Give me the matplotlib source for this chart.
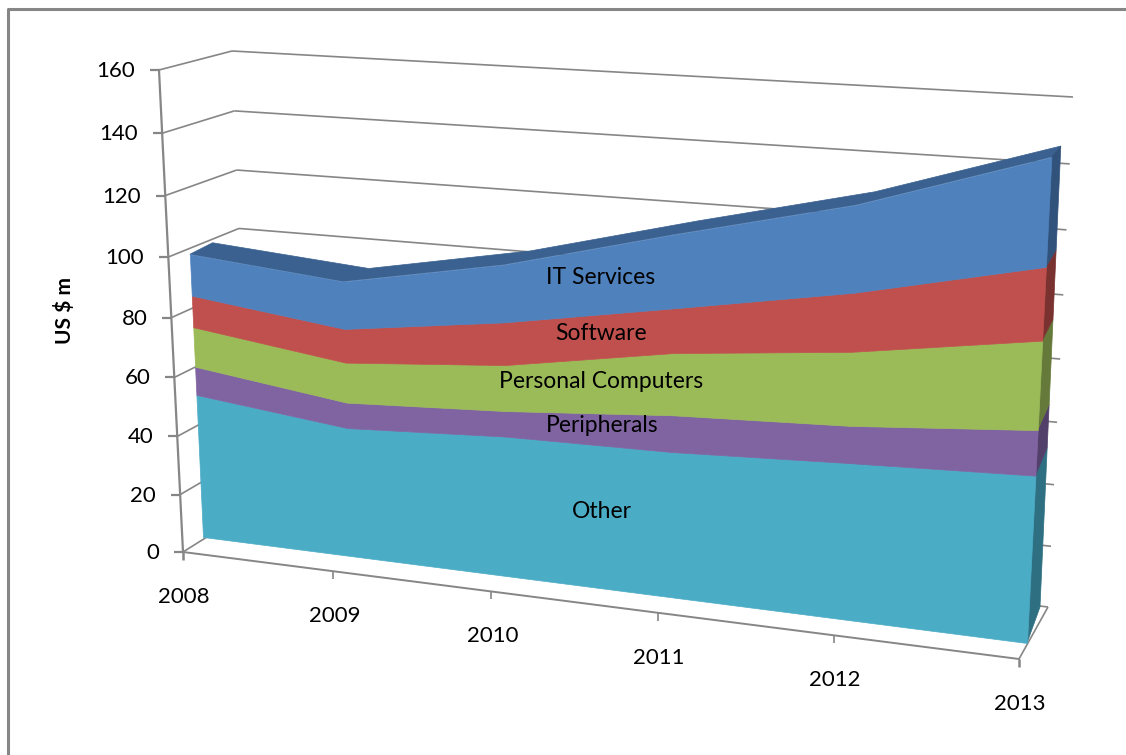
import numpy as np
import matplotlib
matplotlib.use('Agg')
import matplotlib.pyplot as plt
from matplotlib.transforms import Transform

plt.rcParams['font.family'] = ['Lato', 'DejaVu Sans']

years = ['2008', '2009', '2010', '2011', '2012', '2013']
series_names = ['Other', 'Peripherals', 'Personal Computers', 'Software', 'IT Services']
other = [49.9, 44.0, 46.8, 47.5, 49.9, 52.0]
peripherals = [9.7, 8.6, 8.4, 11.8, 11.6, 13.8]
personal_computers = [13.5, 13.4, 15.0, 19.7, 22.8, 26.7]
software = [10.7, 11.2, 13.8, 14.0, 17.9, 21.6]
it_services = [13.9, 15.6, 18.4, 22.8, 26.2, 31.5]
y_ticks = [0, 20, 40, 60, 80, 100, 120, 140, 160]

face_colors = ['#4BACC6', '#8064A2', '#9BBB59', '#C0504D', '#4F81BD']
side_colors = ['#2F6F82', '#523F6A', '#657A3A', '#7A3230', '#31527A']
top_color = '#3A6190'
grid_color = '#868686'


class Homography(Transform):
    """perspective map from (year index, value) to picture pixels"""
    input_dims = 2
    output_dims = 2

    def __init__(self, corners):
        super().__init__()
        src = [(0, 0), (5, 0), (0, 160), (5, 160)]
        A, b = [], []
        for (u, v), (x, y) in zip(src, corners):
            A.append([u, v, 1, 0, 0, 0, -u * x, -v * x])
            A.append([0, 0, 0, u, v, 1, -u * y, -v * y])
            b += [x, y]
        self.H = np.append(np.linalg.solve(np.array(A, float), np.array(b, float)), 1).reshape(3, 3)

    def transform_non_affine(self, values):
        pts = np.column_stack((values, np.ones(len(values))))
        out = pts @ self.H.T
        return out[:, :2] / out[:, 2:]


fig = plt.figure(figsize=(11.26, 7.55), dpi=100)
ax = fig.add_axes([0, 0, 1, 1])
ax.set_xlim(0, 1126)
ax.set_ylim(755, 0)
ax.axis('off')
ax.set_autoscale_on(False)

# corners in order (2008,0) (2013,0) (2008,160) (2013,160)
axis_plane = Homography([(183, 552), (1019, 659), (159, 70), (1046, 112)])
wall_plane = Homography([(250, 510), (1048, 607), (232, 51), (1073, 97)])
front_face = Homography([(203, 537), (1027, 643), (181, 64), (1054, 106)])
back_face = Homography([(224, 522), (1040, 607), (205, 56), (1063, 98)])


def line_between(a, b, **kw):
    ax.plot([a[0], b[0]], [a[1], b[1]], color=grid_color, solid_capstyle='butt', **kw)


# frame, only top and left
ax.plot([7.5, 7.5, 1126], [755, 8.5, 8.5], color=grid_color, lw=2.2)

# walls and floor
for v in y_ticks:
    pf = axis_plane.transform(np.array([[0, v]]))[0]
    pb = wall_plane.transform(np.array([[0, v]]))[0]
    pr = wall_plane.transform(np.array([[5, v]]))[0]
    line_between(pf, pb, lw=1.2)
    line_between(pb, pr, lw=1.2)
    line_between(pf, pf - [9, 0], lw=1.6)
    ax.text(pf[0] - 24, pf[1] + 1, str(v), ha='right', va='center', fontsize=16, color='black')

t_all = np.arange(len(years))
ax.plot([0, 0], [0, 160], color=grid_color, lw=1.6, transform=axis_plane + ax.transData)
ax.plot([0, 5], [0, 0], color=grid_color, lw=1.4, transform=axis_plane + ax.transData)
line_between(axis_plane.transform(np.array([[5, 0]]))[0], wall_plane.transform(np.array([[5, 0]]))[0], lw=1.2)
for t, label in zip(t_all, years):
    p = axis_plane.transform(np.array([[t, 0]]))[0]
    line_between(p, p + [0, 8], lw=1.2 if 0 < t < 5 else 1.8)
    ax.text(p[0] + 1, p[1] + 45, label, ha='center', va='center', fontsize=16, color='black')

# stacked area, depth faces first
layers = np.array([other, peripherals, personal_computers, software, it_services])
tops = np.cumsum(layers, axis=0)
bottoms = np.vstack((np.zeros(len(years)), tops[:-1]))

top_front = front_face.transform(np.column_stack((t_all, tops[-1])))
top_back = back_face.transform(np.column_stack((t_all, tops[-1])))
ax.fill(np.r_[top_front[:, 0], top_back[::-1, 0]], np.r_[top_front[:, 1], top_back[::-1, 1]],
        color=top_color, lw=0.5, zorder=3)

for i in range(len(series_names)):
    corners = [(5, bottoms[i, -1]), (5, tops[i, -1])]
    f = front_face.transform(np.array(corners))
    b = back_face.transform(np.array(corners))
    quad = np.vstack((f, b[::-1]))
    ax.fill(quad[:, 0], quad[:, 1], color=side_colors[i], lw=0.5, zorder=3)

for i in range(len(series_names)):
    ax.fill_between(t_all, bottoms[i], tops[i], color=face_colors[i], lw=0.5, zorder=4,
                    transform=front_face + ax.transData)

# labels
label_xy = [(602, 511), (602, 425), (601, 382), (601, 333), (601, 278)]
for name, (x, y) in zip(series_names, label_xy):
    ax.text(x, y, name, ha='center', va='center', fontsize=16.5, color='black', zorder=5)

ax.text(65, 310, 'US $ m', rotation=90, ha='center', va='center', fontsize=15,
        fontweight='bold', color='black')

fig.savefig('out.png', dpi=100)
